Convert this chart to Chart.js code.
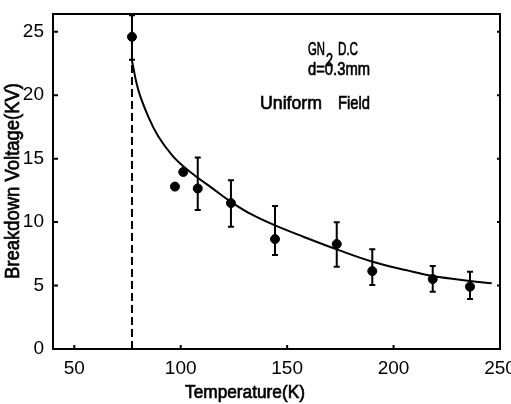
<!DOCTYPE html>
<html>
<head>
<meta charset="utf-8">
<script src="https://cdn.jsdelivr.net/npm/chart.js@4.4.1/dist/chart.umd.min.js"></script>
<style>
  body { margin: 0; background: #fff; }
  #wrap { width: 511px; height: 404px; }
</style>
</head>
<body>
<div id="wrap"><canvas id="chart" width="511" height="404"></canvas></div>
<script>
// measured breakdown voltages
const measTemp = [77.1, 97.3, 101.2, 108.0, 123.6, 144.3, 173.3, 190.0, 218.4, 235.9];
const measVolt = [24.6, 12.8, 13.95, 12.65, 11.5, 8.66, 8.27, 6.14, 5.51, 4.91];
// error bars (null = no bar)
const errLow  = [22.8, null, null, 10.95, 9.63, 7.4, 6.48, 5.04, 4.51, 3.94];
const errHigh = [26.3, null, null, 15.1, 13.3, 11.26, 9.98, 7.87, 6.54, 6.09];

// fitted curve
const fitTemp = [77.0, 80.1, 84.8, 89.5, 95.8, 101.2, 108.0, 114.6, 123.6, 133.3, 143.5, 157.6, 173.3, 189.7, 206.2, 218.4, 235.9, 246.1];
const fitVolt = [22.8, 20.4, 18.3, 16.75, 15.3, 14.4, 13.5, 12.7, 11.6, 10.6, 9.8, 8.85, 7.85, 6.9, 6.2, 5.75, 5.36, 5.18];

// liquid nitrogen boiling point marker
const lnTemp = 77.1;
const xTicks = [50, 100, 150, 200, 250];
const yTicks = [0, 5, 10, 15, 20, 25];

const FONT = "'Liberation Sans', Arial, sans-serif";

// text squeezed horizontally to look like the narrow lettering of the original
function narrowText(ctx, text, x, y, size, width, align) {
    ctx.save();
    ctx.font = size + 'px ' + FONT;
    const w = ctx.measureText(text).width;
    const k = width / w;
    ctx.translate(x, y);
    ctx.scale(k, 1);
    ctx.textAlign = align || 'left';
    ctx.textBaseline = 'middle';
    ctx.fillStyle = '#000';
    ctx.strokeStyle = '#000';
    ctx.lineWidth = 0.7;
    ctx.fillText(text, 0, 0);
    ctx.strokeText(text, 0, 0);
    ctx.restore();
}

const errorBars = {
    id: 'errorBars',
    afterDatasetsDraw(chart) {
        const { ctx, scales: { x, y } } = chart;
        ctx.save();
        ctx.strokeStyle = '#000';
        ctx.lineWidth = 2;
        measTemp.forEach((t, i) => {
            if (errLow[i] == null) return;
            const px = x.getPixelForValue(t);
            const y1 = y.getPixelForValue(errLow[i]);
            const y2 = y.getPixelForValue(errHigh[i]);
            ctx.beginPath();
            ctx.moveTo(px, y1); ctx.lineTo(px, y2);
            ctx.moveTo(px - 3, y1); ctx.lineTo(px + 3, y1);
            ctx.moveTo(px - 3, y2); ctx.lineTo(px + 3, y2);
            ctx.stroke();
        });
        ctx.restore();
    }
};

const frame = {
    id: 'frame',
    afterDraw(chart) {
        const { ctx, chartArea: a, scales: { x, y } } = chart;
        ctx.save();
        ctx.strokeStyle = '#000';
        ctx.lineWidth = 2;
        ctx.strokeRect(a.left, a.top, a.right - a.left, a.bottom - a.top);
        // inward ticks
        ctx.beginPath();
        xTicks.forEach(v => {
            const px = x.getPixelForValue(v);
            if (px < a.right - 2) { ctx.moveTo(px, a.bottom); ctx.lineTo(px, a.bottom - 4); }
        });
        yTicks.forEach(v => {
            const py = y.getPixelForValue(v);
            if (py < a.bottom - 2) {
                ctx.moveTo(a.left, py); ctx.lineTo(a.left + 5, py);
                ctx.moveTo(a.right, py); ctx.lineTo(a.right - 3, py);
            }
        });
        ctx.stroke();
        ctx.restore();

        // axis titles
        narrowText(ctx, 'Temperature(K)', 245, 393, 19, 120, 'center');
        ctx.save();
        ctx.translate(13, 181);
        ctx.rotate(-Math.PI / 2);
        narrowText(ctx, 'Breakdown Voltage(KV)', 0, 0, 20, 196, 'center');
        ctx.restore();

        // annotation text
        narrowText(ctx, 'GN', 308, 50, 19, 17);
        narrowText(ctx, '2', 326, 61, 18, 7);
        narrowText(ctx, 'D.C', 338, 50, 19, 20);
        narrowText(ctx, 'd=0.3mm', 308, 70, 19, 62);
        narrowText(ctx, 'Uniform', 260, 104, 19, 62);
        narrowText(ctx, 'Field', 338, 104, 19, 32);
    }
};

new Chart(document.getElementById('chart'), {
    type: 'scatter',
    data: {
        datasets: [
            {
                label: 'measured',
                data: measTemp.map((t, i) => ({ x: t, y: measVolt[i] })),
                backgroundColor: '#000',
                borderColor: '#000',
                pointRadius: 4.5,
                pointHoverRadius: 4.5
            },
            {
                label: 'fit',
                type: 'line',
                data: fitTemp.map((t, i) => ({ x: t, y: fitVolt[i] })),
                borderColor: '#000',
                borderWidth: 2,
                pointRadius: 0,
                tension: 0.4,
                fill: false
            },
            {
                label: '77K',
                type: 'line',
                data: [{ x: lnTemp, y: 0 }, { x: lnTemp, y: 26.4 }],
                borderColor: '#000',
                borderWidth: 2,
                borderDash: [8, 4],
                pointRadius: 0,
                fill: false
            }
        ]
    },
    options: {
        responsive: false,
        animation: false,
        layout: { padding: { top: 14, right: 11, left: 0, bottom: 0 } },
        plugins: {
            legend: { display: false },
            tooltip: { enabled: false }
        },
        scales: {
            x: {
                type: 'linear',
                min: 40,
                max: 250,
                afterFit: s => { s.height = 55; s.paddingLeft = 0; s.paddingRight = 0; },
                afterBuildTicks: s => { s.ticks = xTicks.map(v => ({ value: v })); },
                grid: { display: false, drawTicks: false },
                border: { display: false },
                ticks: { color: '#000', padding: 8, font: { family: FONT, size: 19 } }
            },
            y: {
                min: 0,
                max: 26.4,
                afterFit: s => { s.width = 53; s.paddingTop = 0; s.paddingBottom = 0; },
                afterBuildTicks: s => { s.ticks = yTicks.map(v => ({ value: v })); },
                grid: { display: false, drawTicks: false },
                border: { display: false },
                ticks: { color: '#000', padding: 9, font: { family: FONT, size: 19 } }
            }
        }
    },
    plugins: [errorBars, frame]
});
</script>
</body>
</html>
